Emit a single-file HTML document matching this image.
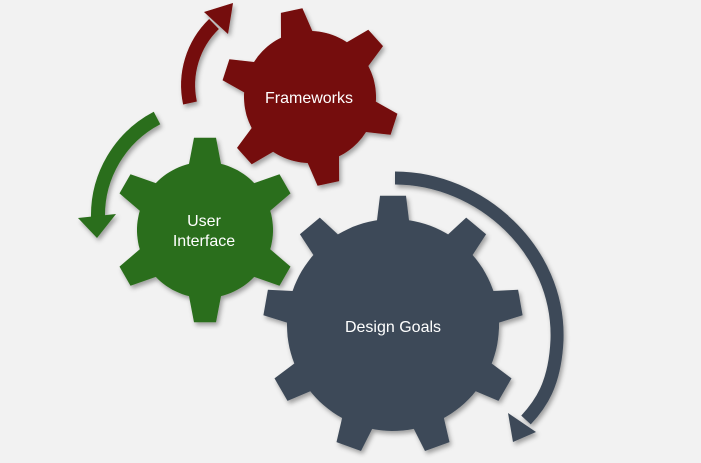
<!DOCTYPE html>
<html><head><meta charset="utf-8"><style>
html,body{margin:0;padding:0;background:#f2f2f2;}
svg{display:block}
text{font-family:"Liberation Sans",sans-serif;fill:#fff;font-size:16px;text-anchor:middle}
</style></head><body>
<svg id="s" width="701" height="463" viewBox="0 0 701 463" xmlns="http://www.w3.org/2000/svg">
<defs>
<filter id="sh" x="-20%" y="-20%" width="140%" height="140%"><feDropShadow dx="2" dy="3" stdDeviation="2.5" flood-color="#000" flood-opacity="0.35"/></filter>
</defs>
<g filter="url(#sh)">
<path d="M190 103 A85 85 0 0 1 214 24" fill="none" stroke="#750807" stroke-width="14"/>
<polygon points="204,12 228,34 233,3" fill="#750807"/>
<path d="M157 118 A110 110 0 0 0 98 218" fill="none" stroke="#2a6e1a" stroke-width="14"/>
<polygon points="78,218 116,214 97,238" fill="#2a6e1a"/>
<path d="M395 178 C480 178 560 250 557 340 C555 385 540 405 526 420" fill="none" stroke="#3e4a58" stroke-width="13"/>
<polygon points="508,413 536,432 513,442" fill="#3e4a58"/>
<path id="g1" fill="#750807"/>
<path id="g2" fill="#2a6e1a"/>
<path id="g3" fill="#3e4a58"/>
</g>
<text x="309" y="103">Frameworks</text>
<text x="204" y="226">User</text>
<text x="204" y="246">Interface</text>
<text x="393" y="332">Design Goals</text>
</svg>
<script>
function gear(id,cx,cy,rb,ro,n,a0,wb,wt){
 var p=[],step=360/n;
 for(var i=0;i<n;i++){
  var a=a0+i*step;
  var hb=Math.asin(wb/2/rb)*180/Math.PI, ht=Math.asin(wt/2/ro)*180/Math.PI;
  function pt(r,d){var t=d*Math.PI/180;p.push((cx+r*Math.sin(t)).toFixed(1)+','+(cy-r*Math.cos(t)).toFixed(1));}
  pt(rb,a-hb);pt(ro,a-ht);pt(ro,a+ht);pt(rb,a+hb);
  var e=a+step-hb;
  for(var d=a+hb+3;d<e;d+=3)pt(rb,d);
 }
 document.getElementById(id).setAttribute('d','M'+p.join(' L')+'Z');
}
gear('g1',310,97,66,89,6,-12,32,22);
gear('g2',205,230,68,93,6,0,32,22);
gear('g3',393,325,106,130,9,0,32,26);
</script>
</body></html>
